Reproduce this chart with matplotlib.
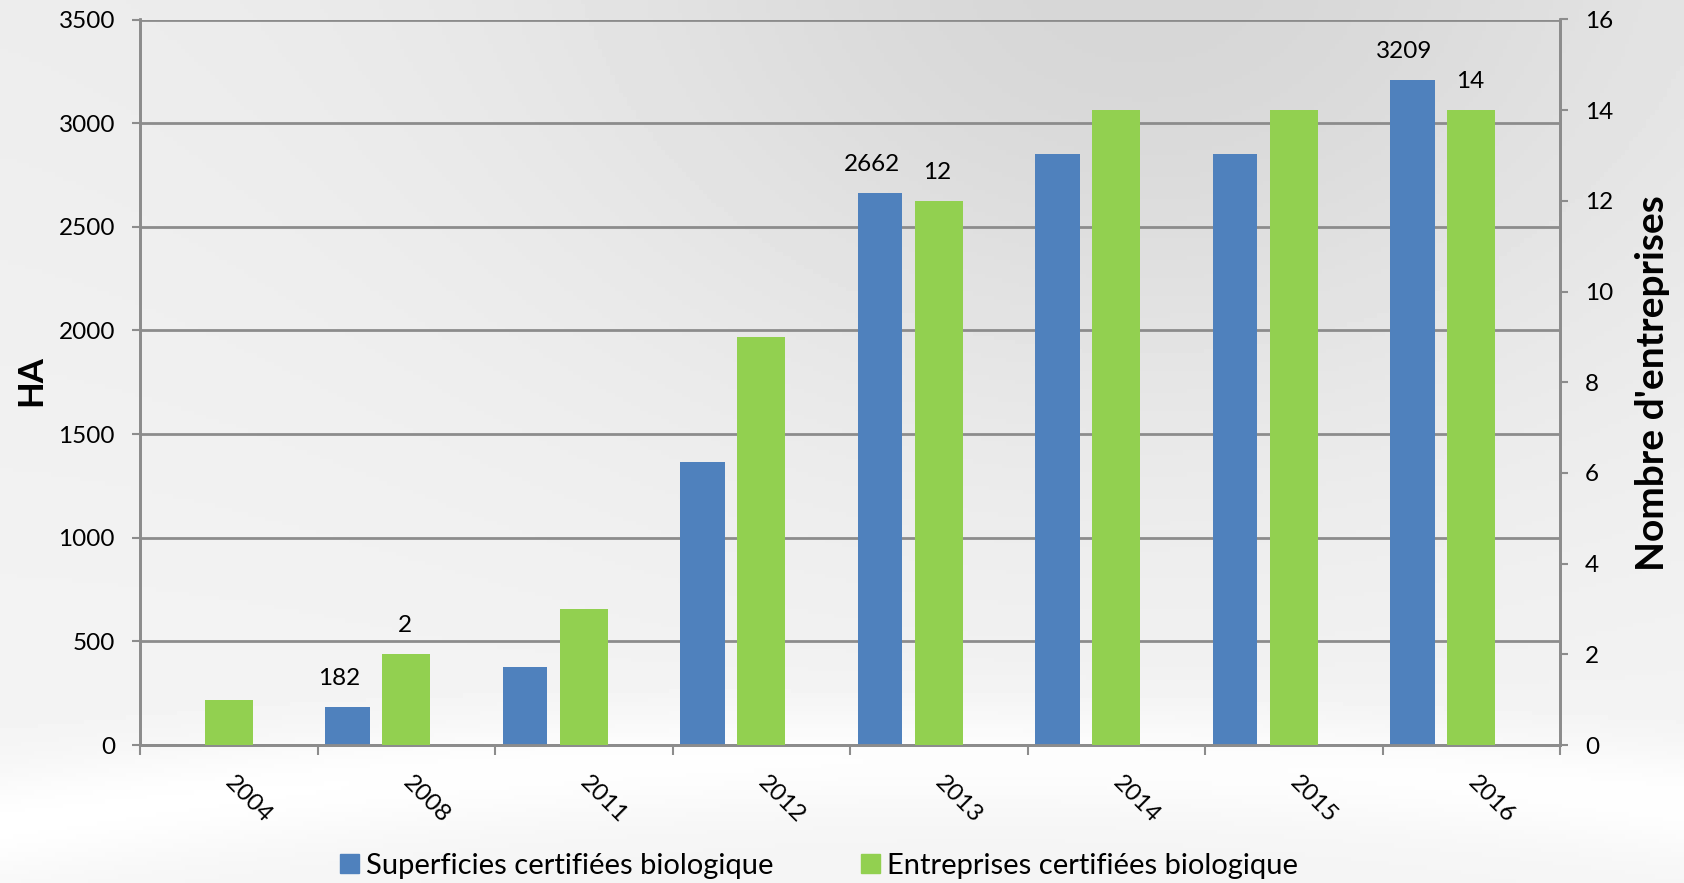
import numpy as np
import matplotlib.pyplot as plt
from matplotlib.patches import Patch

# data
years = ['2004', '2008', '2011', '2012', '2013', '2014', '2015', '2016']
surface_ha = [0, 182, 375, 1365, 2662, 2850, 2850, 3209]
nb_entreprises = [1, 2, 3, 9, 12, 14, 14, 14]
labelled = [1, 4, 7]  # bars that carry a value label

blue = '#4f81bd'
green = '#92d050'
grid_col = '#8c8c8c'

plt.rcParams['font.family'] = ['Lato', 'DejaVu Sans']

fig = plt.figure(figsize=(16.84, 8.83), dpi=100)

# soft grey background
bg = fig.add_axes([0, 0, 1, 1], zorder=-10)
gx, gy = np.meshgrid(np.linspace(0, 1, 400), np.linspace(0, 1, 200))
shade = 0.93 - 0.09 * np.exp(-((gx - 0.68) ** 2 / 0.12 + gy ** 2 / 0.25))
swoosh = 0.04 * np.exp(-((gy - (0.86 + 0.25 * (gx - 0.55) ** 2)) ** 2) / 0.004)
shade = np.clip(shade + swoosh + 0.03 * gy, 0, 1)
bg.imshow(shade, cmap='gray', vmin=0, vmax=1, aspect='auto', extent=[0, 1, 1, 0])
bg.axis('off')

ax = fig.add_axes([140 / 1684, 1 - 745 / 883, 1420 / 1684, 725.5 / 883])
ax.patch.set_alpha(0)
ax2 = ax.twinx()

x = np.arange(len(years))
b1 = ax.bar(x - 0.33, surface_ha, width=0.25, color=blue, zorder=3)
b2 = ax2.bar(x, nb_entreprises, width=0.27, color=green, zorder=3)

ax.set_xlim(-0.5, len(years) - 0.5)
ax.set_ylim(0, 3500)
ax2.set_ylim(0, 16)
ax.set_yticks(np.arange(0, 3501, 500))
ax2.set_yticks(np.arange(0, 17, 2))
ax.yaxis.grid(True, color=grid_col, linewidth=2, zorder=0)
ax.set_axisbelow(True)

ax.set_xticks(x)
ax.set_xticklabels(years, rotation=-45, ha='left', va='center',
                   rotation_mode='anchor', fontsize=17.5)
ax.set_xticks(np.arange(-0.5, len(years)), minor=True)
ax.tick_params(axis='x', which='major', length=0, pad=25)
ax.tick_params(axis='x', which='minor', length=7, width=1.5, color=grid_col)
ax.tick_params(axis='y', length=6, width=1.5, color=grid_col, labelsize=17.5, pad=12)
ax2.tick_params(axis='y', length=6, width=1.5, color=grid_col, labelsize=17.5, pad=12)

for a in (ax, ax2):
    a.spines['top'].set_visible(False)
    for side in ('left', 'right', 'bottom'):
        a.spines[side].set_color(grid_col)
        a.spines[side].set_linewidth(2)

for i in labelled:
    ax.annotate(str(surface_ha[i]), (x[i] - 0.33, surface_ha[i]), xytext=(-6, 13),
                textcoords='offset points', ha='center', va='bottom', fontsize=17.5)
    ax2.annotate(str(nb_entreprises[i]), (x[i], nb_entreprises[i]), xytext=(-1, 13),
                 textcoords='offset points', ha='center', va='bottom', fontsize=17.5)

fig.text(31 / 1684, 1 - 381 / 883, 'HA', rotation=90, ha='center', va='center',
         fontsize=25, fontweight='bold')
fig.text(1652 / 1684, 1 - 383 / 883, "Nombre d'entreprises", rotation=90,
         ha='center', va='center', fontsize=28, fontweight='bold')

handles = [Patch(color=blue, label='Superficies certifiées biologique'),
           Patch(color=green, label='Entreprises certifiées biologique')]
fig.legend(handles=handles, loc='center', bbox_to_anchor=(819 / 1684, 1 - 866 / 883),
           ncol=2, frameon=False, fontsize=21, handlelength=0.65, handleheight=0.65,
           handletextpad=0.25, columnspacing=3.0)

fig.savefig('out.png', dpi=100)
